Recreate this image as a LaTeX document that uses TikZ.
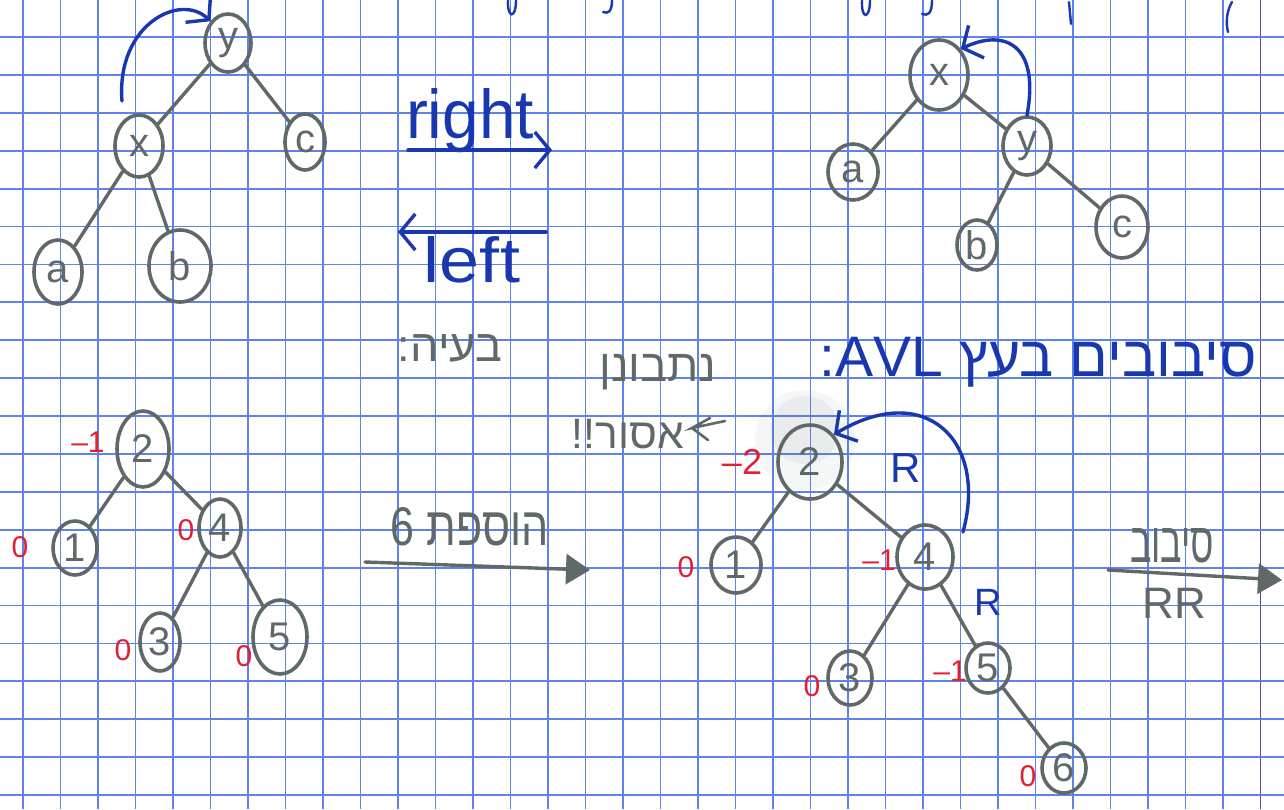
\documentclass[tikz,border=0pt]{standalone}
\usepackage{fontspec}
\setmainfont{Liberation Sans}
\newfontfamily\heb[Script=Hebrew]{Liberation Sans}
\TeXXeTstate=1
\usetikzlibrary{shapes.geometric,arrows.meta}
\definecolor{gridc}{RGB}{95,130,235}
\definecolor{margin}{RGB}{95,70,150}
\definecolor{pencil}{RGB}{95,105,105}
\definecolor{redink}{RGB}{228,30,55}
\definecolor{blueink}{RGB}{25,55,175}
\newcommand{\fsz}[1]{\fontsize{#1}{#1}\selectfont}
\tikzset{
  pn/.style={ellipse, draw=pencil, line width=3.6pt, text=pencil, inner sep=0pt, font=\fsz{40}},
  tedge/.style={draw=pencil, line width=3.4pt, line cap=round},
  bal/.style={text=redink, inner sep=0pt, font=\fsz{30}},
  ink/.style={draw=blueink, line width=3.4pt, line cap=round},
  inktxt/.style={text=blueink, inner sep=0pt},
  pentxt/.style={text=pencil, inner sep=0pt},
  barb/.style={-{Straight Barb[length=15pt,width=36pt,line width=3.4pt]}},
  tri/.style={-{Triangle[length=24pt,width=30pt]}},
}
\begin{document}
\begin{tikzpicture}[x=1pt,y=-1pt]
\useasboundingbox (0,0) rectangle (1284,809);
\fill[white] (0,0) rectangle (1284,809);
% grid
\foreach \i in {0,...,32} \draw[gridc, line width=1.5pt] ({23+37.5*\i},0) -- ({23+37.5*\i},809);
\draw[margin, line width=1.6pt] (1260.5,0) -- (1260.5,809);
\foreach \j in {0,...,20} \draw[gridc, line width=1.8pt] (0,{37+37.9*\j}) -- (1284,{37+37.9*\j});

% top fragments of cut text
\draw[ink, line width=2.4pt] (508,0) .. controls (507,18) and (516,20) .. (516,0);
\draw[ink, line width=2.4pt] (612,0) .. controls (612,12) and (608,14) .. (603,12);
\draw[ink, line width=2.4pt] (862,0) .. controls (861,20) and (870,20) .. (870,0);
\draw[ink, line width=2.4pt] (932,0) .. controls (932,14) and (928,16) .. (922,14);
\draw[ink, line width=2.4pt] (1069,2) -- (1071,24);
\draw[ink, line width=2.4pt] (1232,2) .. controls (1226,12) and (1226,24) .. (1228,32);

% ---------- top-left tree
\node[pn, minimum width=46pt, minimum height=58pt] (ly) at (228,43) {y};
\node[pn, minimum width=48pt, minimum height=62pt] (lx) at (139,146) {x};
\node[pn, minimum width=40pt, minimum height=56pt] (lc) at (305,142) {c};
\node[pn, minimum width=48pt, minimum height=64pt] (la) at (58,272) {a};
\node[pn, minimum width=62pt, minimum height=72pt] (lb) at (180,266) {b};
\draw[tedge] (ly) -- (lx);
\draw[tedge] (ly) -- (lc);
\draw[tedge] (lx) -- (la);
\draw[tedge] (lx) -- (lb);
\coordinate (lrs) at (122,101);
\draw[ink, barb] (lrs) .. controls (116,25) and (180,-8) .. (ly.north west);

% ---------- top-right tree
\node[pn, minimum width=58pt, minimum height=70pt] (rx) at (939,75) {x};
\node[pn, minimum width=50pt, minimum height=56pt] (ra) at (853,172) {a};
\node[pn, minimum width=48pt, minimum height=58pt] (ry) at (1027,146) {y};
\node[pn, minimum width=40pt, minimum height=50pt] (rb) at (977,245) {b};
\node[pn, minimum width=52pt, minimum height=62pt] (rc) at (1122,227) {c};
\draw[tedge] (rx) -- (ra);
\draw[tedge] (rx) -- (ry);
\draw[tedge] (ry) -- (rb);
\draw[tedge] (ry) -- (rc);
\draw[ink, barb] (ry.north) .. controls (1040,45) and (1005,28) .. (rx.north east);

% ---------- right / left arrows
\coordinate (ra1) at (408,150); \coordinate (ra2) at (552,150);
\draw[ink, barb] (ra1) -- (ra2);
\node[inktxt, anchor=south] (rtxt) at (470,153) {\resizebox{128pt}{50pt}{right}};
\coordinate (la1) at (546,232); \coordinate (la2) at (398,232);
\draw[ink, barb] (la1) -- (la2);
\node[inktxt, anchor=north] (ltxt) at (472,236) {\resizebox{96pt}{46pt}{left}};

% ---------- Hebrew headings
\node[pentxt] (baaya) at (450,348) {\resizebox{104pt}{!}{\heb\beginR בעיה:\endR}};
\node[inktxt] (title) at (1038,362) {\resizebox{437pt}{!}{\heb\beginR סיבובים בעץ \beginL AVL\endL:\endR}};
\node[pentxt] (nitbonen) at (658,372) {\resizebox{117pt}{!}{\heb\beginR נתבונן\endR}};
\node[pentxt] (asur) at (628,434) {\resizebox{112pt}{!}{\heb\beginR אסור!!\endR}};
\draw[tedge, line width=2.6pt] (725,421) -- (692,428) -- (710,418);
\draw[tedge, line width=2.6pt] (692,428) -- (708,440);

% ---------- bottom-left tree
\node[pn, minimum width=52pt, minimum height=76pt] (b2) at (143,449) {2};
\node[pn, minimum width=44pt, minimum height=54pt] (b1) at (75,548) {1};
\node[pn, minimum width=42pt, minimum height=58pt] (b4) at (220,528) {4};
\node[pn, minimum width=40pt, minimum height=58pt] (b3) at (160,642) {3};
\node[pn, minimum width=54pt, minimum height=74pt] (b5) at (280,637) {5};
\draw[tedge] (b2) -- (b1);
\draw[tedge] (b2) -- (b4);
\draw[tedge] (b4) -- (b3);
\draw[tedge] (b4) -- (b5);
\node[bal] (bb2) at (88,442) {–1};
\node[bal] (bb1) at (20,547) {0};
\node[bal] (bb4) at (186,530) {0};
\node[bal] (bb3) at (123,650) {0};
\node[bal] (bb5) at (244,656) {0};

% ---------- insertion arrow
\coordinate (ia1) at (365,562); \coordinate (ia2) at (590,570);
\draw[tedge, tri, fill=pencil] (ia1) -- (ia2);
\node[pentxt] (hosafa) at (470,527) {\resizebox{158pt}{38pt}{\heb\beginR הוספת 6\endR}};

% ---------- bottom-middle tree
\fill[pencil, opacity=0.06] (805,440) circle (50pt);
\fill[pencil, opacity=0.07] (805,430) circle (34pt);
\node[pn, minimum width=64pt, minimum height=74pt] (m2) at (810,462) {2};
\node[pn, minimum width=50pt, minimum height=56pt] (m1) at (736,565) {1};
\node[pn, minimum width=56pt, minimum height=64pt] (m4) at (925,557) {4};
\node[pn, minimum width=44pt, minimum height=54pt] (m3) at (850,678) {3};
\node[pn, minimum width=44pt, minimum height=50pt] (m5) at (988,668) {5};
\node[pn, minimum width=44pt, minimum height=50pt] (m6) at (1064,768) {6};
\draw[tedge] (m2) -- (m1);
\draw[tedge] (m2) -- (m4);
\draw[tedge] (m4) -- (m3);
\draw[tedge] (m4) -- (m5);
\draw[tedge] (m5) -- (m6);
\node[bal, font=\fsz{36}] (mb2) at (742,462) {–2};
\node[bal] (mb1) at (686,567) {0};
\node[bal] (mb4) at (879,560) {–1};
\node[bal] (mb3) at (812,686) {0};
\node[bal] (mb5) at (950,671) {–1};
\node[bal] (mb6) at (1028,776) {0};
\node[inktxt, font=\fsz{42}] (rr1) at (906,468) {R};
\node[inktxt, font=\fsz{38}] (rr2) at (988,602) {R};
\coordinate (mas) at (963,532);
\draw[ink, barb] (mas) .. controls (988,440) and (925,380) .. (m2.north east);

% ---------- RR rotation arrow
\coordinate (rr_a) at (1108,570); \coordinate (rr_b) at (1282,580);
\draw[tedge, tri, fill=pencil] (rr_a) -- (rr_b);
\node[pentxt] (sivuv) at (1172,546) {\resizebox{84pt}{34pt}{\heb\beginR סיבוב\endR}};
\node[pentxt, font=\fsz{44}] (rrt) at (1174,603) {RR};
\end{tikzpicture}
\end{document}
